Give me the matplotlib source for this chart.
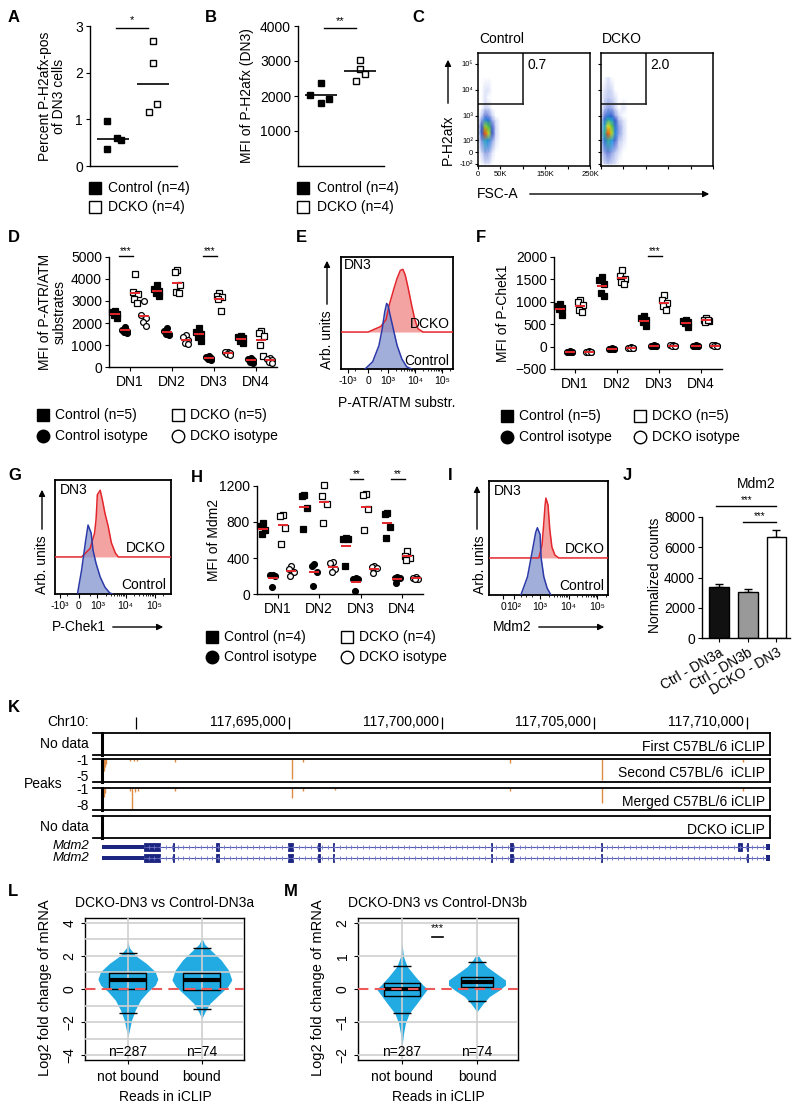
import numpy as np
import matplotlib
matplotlib.use("Agg")
from matplotlib import pyplot as plt
from matplotlib.lines import Line2D
from matplotlib.patches import Rectangle, FancyArrowPatch
from matplotlib.colors import LinearSegmentedColormap

plt.rcParams['font.family'] = ['Liberation Sans', 'DejaVu Sans']
plt.rcParams['font.size'] = 10
plt.rcParams['axes.linewidth'] = 1.0
plt.rcParams['xtick.major.size'] = 3
plt.rcParams['ytick.major.size'] = 3
plt.rcParams['xtick.major.pad'] = 2.5
plt.rcParams['ytick.major.pad'] = 2
plt.rcParams['xtick.minor.size'] = 1.5
plt.rcParams['ytick.minor.size'] = 1.5

# ---------------- data ----------------
# A: percent P-H2afx-pos of DN3
a_ctrl = [0.96, 0.59, 0.55, 0.37]
a_dcko = [2.67, 2.21, 1.16, 1.32]
a_jit_c = [-0.14, 0.09, 0.21, -0.14]
a_jit_d = [0.0, 0.0, -0.1, 0.09]

# B: MFI of P-H2afx (DN3)
b_ctrl = [2360, 2030, 1920, 1810]
b_dcko = [3030, 2770, 2630, 2430]
b_jit_c = [0.0, -0.28, 0.2, 0.0]
b_jit_d = [0.0, 0.0, 0.13, -0.1]

# C: flow density (rows = P-H2afx levels, cols = FSC-A levels)
c_fsc = [0, 8000, 16000, 24000, 32000, 40000, 50000, 60000, 75000]
c_h2 = [-100, 0, 100, 200, 400, 700, 1000, 2000, 5000, 10000, 30000]
c_ctrl = np.array([
    [0, 0, 0.02, 0.02, 0, 0, 0, 0, 0],
    [0, 0.03, 0.1, 0.08, 0.02, 0, 0, 0, 0],
    [0, 0.12, 0.45, 0.35, 0.1, 0.02, 0, 0, 0],
    [0, 0.25, 0.95, 0.75, 0.22, 0.03, 0, 0, 0],
    [0, 0.2, 0.7, 0.6, 0.18, 0.03, 0, 0, 0],
    [0, 0.1, 0.35, 0.28, 0.08, 0.02, 0, 0, 0],
    [0, 0.04, 0.15, 0.12, 0.04, 0, 0, 0, 0],
    [0, 0, 0.04, 0.03, 0, 0, 0, 0, 0],
    [0, 0, 0.02, 0, 0, 0, 0, 0, 0],
    [0, 0, 0.02, 0.02, 0, 0, 0, 0, 0],
    [0, 0, 0, 0, 0, 0, 0, 0, 0]])
c_dcko = np.array([
    [0, 0.03, 0.05, 0.03, 0.02, 0, 0, 0, 0],
    [0.02, 0.1, 0.15, 0.1, 0.05, 0.02, 0, 0, 0],
    [0.05, 0.3, 0.5, 0.4, 0.18, 0.05, 0.02, 0, 0],
    [0.08, 0.5, 0.95, 0.75, 0.35, 0.1, 0.03, 0, 0],
    [0.06, 0.45, 0.8, 0.65, 0.3, 0.1, 0.03, 0, 0],
    [0.04, 0.3, 0.5, 0.42, 0.2, 0.06, 0.02, 0, 0],
    [0.02, 0.15, 0.3, 0.24, 0.1, 0.03, 0, 0, 0],
    [0, 0.06, 0.1, 0.08, 0.03, 0, 0.02, 0, 0],
    [0, 0.03, 0.05, 0.04, 0.02, 0, 0, 0, 0],
    [0, 0.02, 0.04, 0.03, 0, 0, 0, 0, 0],
    [0, 0, 0.02, 0, 0, 0, 0, 0, 0]])
c_gate = [100000, 2900]
c_pct = ['0.7', '2.0']

dn_labels = ['DN1', 'DN2', 'DN3', 'DN4']

# D: MFI of P-ATR/ATM substrates
d_ctrl = [[2550, 2480, 2420, 2350, 2250], [3750, 3550, 3450, 3350, 3250],
          [1780, 1600, 1500, 1350, 1200], [1400, 1350, 1300, 1200, 1100]]
d_ctrl_iso = [[1800, 1700, 1650, 1600, 1550], [1780, 1650, 1520, 1480, 1450],
              [500, 450, 400, 350, 300], [420, 350, 300, 250, 200]]
d_dcko = [[4210, 3400, 3300, 3100, 2920], [4390, 4300, 3710, 3400, 3380],
          [3350, 3250, 3200, 3100, 2550], [1650, 1550, 1400, 1000, 520]]
d_dcko_iso = [[3000, 2350, 2250, 2050, 1870], [1450, 1380, 1250, 1100, 1050],
              [700, 680, 620, 580, 550], [400, 350, 300, 250, 200]]

# E: P-ATR/ATM substrate histograms (DN3)
e_red_x = [0, 490, 820, 1100, 1680, 2200, 2900, 3600, 4400, 5700, 7600, 10000, 13000, 20000]
e_red_h = [0, 0.05, 0.11, 0.24, 0.39, 0.48, 0.55, 0.56, 0.51, 0.39, 0.24, 0.11, 0.03, 0]
e_blue_x = [-100, 150, 400, 570, 730, 870, 985, 1200, 1680, 2200, 3300, 5000, 7600]
e_blue_h = [0, 0.065, 0.21, 0.36, 0.51, 0.585, 0.57, 0.48, 0.33, 0.21, 0.09, 0.02, 0]

# F: MFI of P-Chek1
f_ctrl = [[950, 900, 860, 830, 700], [1560, 1480, 1400, 1200, 1130],
          [680, 640, 600, 540, 450], [600, 570, 540, 520, 440]]
f_ctrl_iso = [[-100, -110, -120, -125, -130], [-40, -45, -50, -55, -60],
              [25, 20, 15, 10, 5], [25, 20, 15, 10, 5]]
f_dcko = [[1040, 1000, 930, 820, 780], [1700, 1580, 1500, 1440, 1390],
          [1160, 1050, 980, 900, 810], [640, 600, 580, 560, 590]]
f_dcko_iso = [[-105, -115, -120, -125, -130], [-20, -25, -30, -35, -40],
              [30, 25, 20, 15, 10], [30, 25, 20, 15, 10]]

# G: P-Chek1 histograms (DN3)
g_red_x = [110, 500, 780, 890, 945, 1000, 1280, 1500, 1900, 2500, 3200, 4400, 5600]
g_red_h = [0, 0.075, 0.21, 0.325, 0.425, 0.545, 0.585, 0.515, 0.385, 0.265, 0.125, 0.035, 0]
g_blue_x = [-50, 110, 280, 390, 555, 670, 890, 1280, 1900, 2800, 3500]
g_blue_h = [0, 0.21, 0.47, 0.605, 0.535, 0.385, 0.27, 0.15, 0.06, 0.01, 0]

# H: MFI of Mdm2
h_ctrl = [[785, 755, 707, 662], [1100, 1090, 960, 718], [620, 613, 610, 307], [900, 889, 748, 617]]
h_ctrl_iso = [[215, 206, 200, 82], [330, 310, 250, 90], [176, 170, 170, 37], [190, 180, 180, 120]]
h_dcko = [[880, 870, 736, 561], [1210, 1090, 1000, 792], [1110, 1100, 944, 710], [475, 420, 400, 381]]
h_dcko_iso = [[307, 280, 250, 202], [351, 344, 277, 239], [307, 299, 288, 232], [185, 180, 170, 165]]

# I: Mdm2 histograms (DN3)
i_red_x = [900, 1170, 1370, 1500, 1600, 1900, 2050, 2200, 2600, 3300, 4500]
i_red_h = [0, 0.114, 0.33, 0.465, 0.525, 0.465, 0.35, 0.245, 0.096, 0.026, 0]
i_blue_x = [200, 355, 560, 700, 800, 1000, 1080, 1350, 1770, 2400]
i_blue_h = [0, 0.16, 0.42, 0.55, 0.59, 0.53, 0.33, 0.16, 0.06, 0]

# J: Mdm2 normalized counts
j_labels = ['Ctrl - DN3a', 'Ctrl - DN3b', 'DCKO - DN3']
j_mean = [3400, 3050, 6650]
j_err = [150, 170, 500]

# K: genome browser, Chr10
view_lo, view_hi = 117688870, 117710760
ruler_bp = [117690000, 117695000, 117700000, 117705000, 117710000]
ruler_lab = ['', '117,695,000', '117,700,000', '117,705,000', '117,710,000']
t2_bp = [117688938, 117688970, 117689003, 117689790, 117689920, 117690019, 117691264,
         117695098, 117695459, 117702242, 117705257, 117709878]
t2_val = [-3.1, -2.4, -1.9, -1.35, -1.35, -1.35, -1.5, -4.5, -1.5, -1.7, -4.65, -1.5]
t3_bp = [117688938, 117688970, 117689790, 117689855, 117689955, 117690052, 117691264,
         117695098, 117695459, 117696507, 117702242, 117705257, 117709878]
t3_val = [-3.9, -2.6, -1.95, -7.9, -2.3, -1.95, -1.95, -4.2, -1.95, -1.6, -1.95, -5.8, -1.95]
mdm2_utr = (117688870, 117690245)
mdm2_end = (117710640, 117710760)
mdm2_a = [(117690245, 117690770), (117691185, 117691215), (117692610, 117692720),
          (117694980, 117695120), (117695960, 117696030), (117696430, 117696460),
          (117701605, 117701635), (117702250, 117702350), (117705210, 117705240),
          (117709700, 117709830), (117709995, 117710025)]
mdm2_b = [e for e in mdm2_a if e != (117709700, 117709830)]

# L / M: violin profiles (value, half width) and box stats (q1, median, q3, low, high)
l_nb_y = [2.87, 2.5, 2.0, 1.55, 1.05, 0.6, 0.24, -0.16, -0.67, -1.27, -1.88, -2.5, -2.9]
l_nb_w = [0, 0.02, 0.11, 0.25, 0.37, 0.405, 0.37, 0.27, 0.17, 0.10, 0.05, 0.02, 0]
l_b_y = [3.07, 2.7, 2.36, 1.76, 1.15, 0.55, 0.14, -0.36, -0.87, -1.37, -1.78]
l_b_w = [0, 0.04, 0.12, 0.26, 0.36, 0.405, 0.35, 0.23, 0.11, 0.045, 0]
l_stats = [(0.0, 0.55, 0.95, -1.43, 2.2), (-0.06, 0.55, 0.95, -1.23, 2.46)]
m_nb_y = [1.38, 0.98, 0.68, 0.37, 0.12, 0.0, -0.18, -0.43, -0.74, -1.04, -1.35, -1.75]
m_nb_w = [0, 0.02, 0.07, 0.18, 0.28, 0.34, 0.28, 0.20, 0.095, 0.045, 0.02, 0]
m_b_y = [1.08, 0.88, 0.68, 0.53, 0.27, 0.12, -0.03, -0.23, -0.43, -0.69]
m_b_w = [0, 0.055, 0.13, 0.22, 0.38, 0.38, 0.30, 0.165, 0.085, 0]
m_stats = [(-0.2, 0.0, 0.17, -0.74, 0.71), (0.05, 0.22, 0.35, -0.36, 0.82)]
vio_n = [287, 74]
vio_cats = ['not bound', 'bound']

# ---------------- helpers ----------------
W, H = 800.0, 1112.0
fig = plt.figure(figsize=(8, 11.12), dpi=100)
RED = '#e3262b'
VIO = '#22aae2'


def box(x0, y0, x1, y1):
    return fig.add_axes([x0 / W, 1 - y1 / H, (x1 - x0) / W, (y1 - y0) / H])


def ftext(x, y, s, **kw):
    kw.setdefault('va', 'center')
    return fig.text(x / W, 1 - y / H, s, **kw)


def farrow(x0, y0, x1, y1):
    fig.add_artist(FancyArrowPatch((x0 / W, 1 - y0 / H), (x1 / W, 1 - y1 / H),
                                   transform=fig.transFigure, arrowstyle='-|>',
                                   mutation_scale=9, lw=1, color='k'))


def fmark(x, y, marker, filled, ms):
    fig.add_artist(Line2D([x / W], [1 - y / H], marker=marker, ms=ms,
                          mfc='k' if filled else 'w', mec='k', mew=1,
                          transform=fig.transFigure))


def letter(x, y, s):
    ftext(x, y, s, fontsize=12, fontweight='bold', ha='left')


def prism(ax):
    ax.spines['top'].set_visible(False)
    ax.spines['right'].set_visible(False)
    ax.tick_params(direction='out')


def asinh_scale(ax, axis, c):
    fwd = lambda v: np.arcsinh(np.asarray(v, dtype=float) / (2 * c)) / np.log(10)
    inv = lambda p: 2 * c * np.sinh(np.asarray(p, dtype=float) * np.log(10))
    if axis == 'x':
        ax.set_xscale('function', functions=(fwd, inv))
    else:
        ax.set_yscale('function', functions=(fwd, inv))


# ---------------- A ----------------
letter(8, 18, 'A')
ax = box(90, 26, 177, 166)
prism(ax)
ax.set_xlim(0.425, 2.6)
ax.set_ylim(0, 3)
ax.set_yticks([0, 1, 2, 3])
ax.set_xticks([])
ax.plot([1 + j for j in a_jit_c], a_ctrl, ls='none', marker='s', ms=5, mfc='k', mec='k', clip_on=False)
ax.plot([2 + j for j in a_jit_d], a_dcko, ls='none', marker='s', ms=5, mfc='w', mec='k', mew=1, clip_on=False)
ax.hlines([np.median(a_ctrl), np.median(a_dcko)], [0.59, 1.59], [1.41, 2.41], color='k', lw=1.2)
ax.plot([1.07, 1.87], [2.95, 2.95], color='k', lw=1, clip_on=False)
ax.text(1.47, 3.02, '*', ha='center', va='bottom', fontsize=8)
ftext(52, 96, 'Percent P-H2afx-pos\nof DN3 cells', rotation=90, ha='center', linespacing=1.05)
fmark(95, 188, 's', True, 8)
fmark(95, 207, 's', False, 8)
ftext(108, 188, 'Control (n=4)')
ftext(108, 207, 'DCKO (n=4)')

# ---------------- B ----------------
letter(205, 18, 'B')
ax = box(298, 26, 384, 166)
prism(ax)
ax.set_xlim(0.41, 2.62)
ax.set_ylim(0, 4000)
ax.set_yticks([1000, 2000, 3000, 4000])
ax.set_xticks([])
ax.plot([1 + j for j in b_jit_c], b_ctrl, ls='none', marker='s', ms=5, mfc='k', mec='k', clip_on=False)
ax.plot([2 + j for j in b_jit_d], b_dcko, ls='none', marker='s', ms=5, mfc='w', mec='k', mew=1, clip_on=False)
ax.hlines([np.mean(b_ctrl), np.mean(b_dcko)], [0.58, 1.58], [1.42, 2.42], color='k', lw=1.2)
ax.plot([1.08, 1.9], [3930, 3930], color='k', lw=1, clip_on=False)
ax.text(1.49, 3990, '**', ha='center', va='bottom', fontsize=8)
ftext(247, 96, 'MFI of P-H2afx (DN3)', rotation=90, ha='center')
fmark(303, 188, 's', True, 8)
fmark(303, 207, 's', False, 8)
ftext(317, 188, 'Control (n=4)')
ftext(317, 207, 'DCKO (n=4)')

# ---------------- C ----------------
letter(412, 18, 'C')
flow_cmap = LinearSegmentedColormap.from_list(
    'flow', [(0.0, '#e8ecfb'), (0.06, '#aab8ec'), (0.2, '#3550c8'), (0.4, '#1ea0e6'),
             (0.6, '#3cc24a'), (0.8, '#f2e41c'), (1.0, '#f21a0a')])
flow_cmap.set_under('white')
XX, YY = np.meshgrid(c_fsc, c_h2)
for k, (x0, dens, title) in enumerate([(478, c_ctrl, 'Control'), (601, c_dcko, 'DCKO')]):
    ax = box(x0, 53, x0 + 112, 166)
    asinh_scale(ax, 'y', 40)
    ax.set_xlim(0, 250000)
    ax.set_ylim(-125, 262144)
    ax.pcolormesh(XX, YY, dens, shading='gouraud', cmap=flow_cmap, vmin=0.01, vmax=1)
    ax.plot([0, c_gate[0]], [c_gate[1], c_gate[1]], color='#222222', lw=1.2)
    ax.plot([c_gate[0], c_gate[0]], [c_gate[1], 262144], color='#222222', lw=1.2)
    ax.text(0.44, 0.89, c_pct[k], transform=ax.transAxes, fontsize=10, va='center')
    ax.set_yticks([-100, 0, 100, 1000, 10000, 100000])
    ax.set_xticks([0, 50000, 100000, 150000, 200000, 250000])
    ax.tick_params(labelsize=5.5, length=2, pad=1.5, width=0.8)
    for s in ax.spines.values():
        s.set_linewidth(1.1)
    if k == 0:
        ax.set_yticklabels(['-10²', '0', '10²', '10³', '10⁴', '10⁵'])
        ax.set_xticklabels(['0', '50K', '', '150K', '', '250K'])
    else:
        ax.set_yticklabels([])
        ax.set_xticklabels([])
    ftext(x0 + 1, 39, title, ha='left', fontsize=10)
ftext(448, 140, 'P-H2afx', rotation=90, ha='center', fontsize=10)
farrow(448, 106, 448, 57)
ftext(477, 194, 'FSC-A', ha='left', fontsize=10)
farrow(527, 194, 712, 194)


# ---------------- D / F / H ----------------
OFFS = [-0.36, -0.12, 0.12, 0.33]
JIT = [0.0, -0.06, 0.06, -0.03, 0.04]
STY = [('s', True), ('o', True), ('s', False), ('o', False)]


def mfi_panel(ax, series, ylim, yticks, sig, sig_y):
    prism(ax)
    ax.set_xlim(0.5, 4.5)
    ax.set_ylim(*ylim)
    ax.set_yticks(yticks)
    ax.set_xticks([1, 2, 3, 4])
    ax.set_xticklabels(dn_labels)
    for k, ser in enumerate(series):
        mk, filled = STY[k]
        for g, vals in enumerate(ser):
            x0 = g + 1 + OFFS[k]
            xs = [x0 + JIT[i] for i in range(len(vals))]
            ax.plot(xs, vals, ls='none', marker=mk, ms=4.2, mfc='k' if filled else 'w',
                    mec='k', mew=0.9, clip_on=False, zorder=3)
            ax.hlines(np.mean(vals), x0 - 0.12, x0 + 0.12, color=RED, lw=1.4, zorder=4)
    for g, stars in sig:
        ax.plot([g - 0.27, g + 0.06], [sig_y, sig_y], color='k', lw=1, clip_on=False)
        ax.text(g - 0.105, sig_y, stars, ha='center', va='bottom', fontsize=7)


def mfi_legend(xa, xb, y1, y2, n):
    fmark(xa, y1, 's', True, 8.5)
    fmark(xa, y2, 'o', True, 9)
    fmark(xb, y1, 's', False, 8.5)
    fmark(xb, y2, 'o', False, 9)
    ftext(xa + 12, y1, 'Control (n=%d)' % n)
    ftext(xa + 12, y2, 'Control isotype')
    ftext(xb + 12, y1, 'DCKO (n=%d)' % n)
    ftext(xb + 12, y2, 'DCKO isotype')


letter(8, 238, 'D')
ax = box(109, 257, 277, 367)
mfi_panel(ax, [d_ctrl, d_ctrl_iso, d_dcko, d_dcko_iso], (0, 5000),
          [0, 1000, 2000, 3000, 4000, 5000], [(1, '***'), (3, '***')], 5060)
ftext(52, 312, 'MFI of P-ATR/ATM\nsubstrates', rotation=90, ha='center', linespacing=1.05)
mfi_legend(43, 178, 415, 436, 5)

letter(476, 238, 'F')
ax = box(554, 257, 722, 369)
mfi_panel(ax, [f_ctrl, f_ctrl_iso, f_dcko, f_dcko_iso], (-500, 2000),
          [-500, 0, 500, 1000, 1500, 2000], [(3, '***')], 2030)
ftext(503, 313, 'MFI of P-Chek1', rotation=90, ha='center')
mfi_legend(507, 640, 416, 437, 5)

letter(191, 477, 'H')
ax = box(257, 486, 423, 594)
mfi_panel(ax, [h_ctrl, h_ctrl_iso, h_dcko, h_dcko_iso], (0, 1200),
          [0, 400, 800, 1200], [(3, '**'), (4, '**')], 1280)
ftext(214, 540, 'MFI of Mdm2', rotation=90, ha='center')
mfi_legend(212, 347, 637, 657, 4)


# ---------------- E / G / I ----------------
def hist_panel(ax, c, xlim, xticks, xlabs, minors, red_x, red_h, red_off, blue_x, blue_h):
    asinh_scale(ax, 'x', c)
    ax.set_xlim(*xlim)
    ax.set_ylim(0, 1)
    rx = [xlim[0]] + list(red_x) + [xlim[1]]
    ry = [red_off] + [red_off + h for h in red_h] + [red_off]
    ax.fill_between(rx, red_off, ry, color='#f4a3a3', lw=0, zorder=1)
    ax.plot(rx, ry, color=RED, lw=1.1, zorder=3)
    ax.fill_between(blue_x, 0, blue_h, color='#7f8fcc', alpha=0.72, lw=0, zorder=2)
    ax.plot(blue_x, blue_h, color='#2b3aa8', lw=1.1, zorder=3)
    ax.set_yticks([])
    ax.set_xticks(xticks)
    ax.set_xticklabels(xlabs)
    ax.set_xticks(minors, minor=True)
    ax.tick_params(axis='x', labelsize=7.5, pad=2)
    for s in ax.spines.values():
        s.set_linewidth(1.3)


dec_minor = [2e3, 3e3, 4e3, 5e3, 6e3, 7e3, 8e3, 9e3, 2e4, 3e4, 4e4, 5e4, 6e4, 7e4, 8e4, 9e4, 2e5]

letter(296, 238, 'E')
ax = box(341, 257, 453, 369)
hist_panel(ax, 189, (-1870, 2.55e5), [-1000, 0, 1000, 1e4, 1e5],
           ['-10³', '0', '10³', '10⁴', '10⁵'], [-500, 500] + dec_minor,
           e_red_x, e_red_h, 0.33, e_blue_x, e_blue_h)
ax.text(0.03, 0.93, 'DN3', transform=ax.transAxes, va='center')
ax.text(0.97, 0.40, 'DCKO', transform=ax.transAxes, ha='right', va='center')
ax.text(0.97, 0.07, 'Control', transform=ax.transAxes, ha='right', va='center')
ftext(327, 340, 'Arb. units', rotation=90, ha='center')
farrow(327, 307, 327, 258)
ftext(397, 403, 'P-ATR/ATM substr.', ha='center')

letter(8, 475, 'G')
ax = box(55, 480, 171, 594)
hist_panel(ax, 241, (-1557, 3.7e5), [-1000, 0, 1000, 1e4, 1e5],
           ['-10³', '0', '10³', '10⁴', '10⁵'], [-500, 500] + dec_minor,
           g_red_x, g_red_h, 0.325, g_blue_x, g_blue_h)
ax.text(0.04, 0.91, 'DN3', transform=ax.transAxes, va='center')
ax.text(0.96, 0.40, 'DCKO', transform=ax.transAxes, ha='right', va='center')
ax.text(0.96, 0.08, 'Control', transform=ax.transAxes, ha='right', va='center')
ftext(42, 565, 'Arb. units', rotation=90, ha='center')
farrow(42, 532, 42, 487)
ftext(52, 627, 'P-Chek1', ha='left')
farrow(110, 627, 166, 627)

letter(448, 475, 'I')
ax = box(489, 481, 608, 595)
hist_panel(ax, 50, (-139, 2.42e5), [0, 100, 1000, 1e4, 1e5],
           ['0', '10²', '10³', '10⁴', '10⁵'], [200, 300, 500] + dec_minor,
           i_red_x, i_red_h, 0.325, i_blue_x, i_blue_h)
ax.text(0.04, 0.91, 'DN3', transform=ax.transAxes, va='center')
ax.text(0.97, 0.40, 'DCKO', transform=ax.transAxes, ha='right', va='center')
ax.text(0.97, 0.08, 'Control', transform=ax.transAxes, ha='right', va='center')
ftext(480, 565, 'Arb. units', rotation=90, ha='center')
farrow(477, 532, 477, 483)
ftext(493, 627, 'Mdm2', ha='left')
farrow(536, 627, 607, 627)

# ---------------- J ----------------
letter(623, 475, 'J')
ax = box(702, 517, 790, 638)
prism(ax)
xs = np.arange(len(j_mean))
ax.bar(xs, j_mean, width=0.69, color=['#111111', '#999999', 'white'], edgecolor='k', lw=1, zorder=2)
ax.errorbar(xs, j_mean, yerr=[[0] * len(j_err), j_err], fmt='none', ecolor='k',
            elinewidth=1, capsize=3, capthick=1, zorder=1)
ax.set_xlim(-0.59, 2.47)
ax.set_ylim(0, 8000)
ax.set_yticks([0, 2000, 4000, 6000, 8000])
ax.set_xticks(xs)
ax.set_xticklabels(j_labels, rotation=30, ha='right', rotation_mode='anchor')
ax.plot([-0.1, 2.0], [8700, 8700], color='k', lw=1, clip_on=False)
ax.text(0.95, 8760, '***', ha='center', va='bottom', fontsize=7)
ax.plot([0.85, 2.0], [7700, 7700], color='k', lw=1, clip_on=False)
ax.text(1.42, 7760, '***', ha='center', va='bottom', fontsize=7)
ax.text(1.3, 10150, 'Mdm2', ha='center', va='center')
ftext(655, 575, 'Normalized counts', rotation=90, ha='center')

# ---------------- K ----------------
letter(8, 708, 'K')
ftext(89, 722, 'Chr10:', ha='right')
rul = box(102, 715, 770, 730)
rul.axis('off')
rul.set_xlim(view_lo, view_hi)
rul.set_ylim(0, 1)
rul.vlines(ruler_bp, 0.1, 0.9, color='k', lw=0.9)
for bp, lab in zip(ruler_bp, ruler_lab):
    rul.annotate(lab, (bp, 0.5), xytext=(-2, 0), textcoords='offset points', ha='right', va='center')


def track(y0, y1):
    t = box(102, y0, 770, y1)
    t.set_xlim(view_lo, view_hi)
    t.set_xticks([])
    t.set_yticks([])
    for s in t.spines.values():
        s.set_linewidth(1.3)
    t.spines['left'].set_linewidth(2.2)
    for yy in (y0, y1):
        fig.add_artist(Line2D([93 / W, 102 / W], [1 - yy / H, 1 - yy / H], color='k', lw=1.3))
    return t


t1 = track(733, 755)
t1.text(0.992, 0.35, 'First C57BL/6 iCLIP', transform=t1.transAxes, ha='right', va='center')
ftext(89, 744, 'No data', ha='right')

t2 = track(759, 782)
t2.set_ylim(-5, -1)
t2.vlines(t2_bp, -1, t2_val, color='#dd8b45', lw=1)
t2.text(0.992, 0.38, 'Second C57BL/6  iCLIP', transform=t2.transAxes, ha='right', va='center')
ftext(89, 761, '-1', ha='right')
ftext(89, 777, '-5', ha='right')

t3 = track(788, 810)
t3.set_ylim(-8, -1)
t3.vlines(t3_bp, -1, t3_val, color='#dd8b45', lw=1)
t3.text(0.992, 0.35, 'Merged C57BL/6 iCLIP', transform=t3.transAxes, ha='right', va='center')
ftext(89, 790, '-1', ha='right')
ftext(89, 806, '-8', ha='right')
ftext(43, 784, 'Peaks', ha='center')

t4 = track(816, 838)
t4.text(0.992, 0.38, 'DCKO iCLIP', transform=t4.transAxes, ha='right', va='center')
ftext(89, 827, 'No data', ha='right')

gx = box(102, 841, 770, 864)
gx.axis('off')
gx.set_xlim(view_lo, view_hi)
gx.set_ylim(0, 1)
GENE = '#1c2580'
for yc, exons in [(0.74, mdm2_a), (0.27, mdm2_b)]:
    dec = np.arange(mdm2_utr[1] + 150, mdm2_end[0], 190)
    gx.plot([mdm2_utr[1], mdm2_end[0]], [yc, yc], color='#4a50aa', lw=0.8)
    gx.plot(dec, [yc] * len(dec), ls='none', marker='+', ms=3, mew=0.6, color='#6d72c4')
    gx.add_patch(Rectangle((mdm2_utr[0], yc - 0.09), mdm2_utr[1] - mdm2_utr[0], 0.18, color=GENE, lw=0))
    gx.add_patch(Rectangle((mdm2_end[0], yc - 0.12), mdm2_end[1] - mdm2_end[0], 0.24, color=GENE, lw=0))
    for s, e in exons:
        gx.add_patch(Rectangle((s, yc - 0.18), e - s, 0.36, facecolor=GENE, edgecolor=GENE, lw=0.6))
ftext(89, 846, 'Mdm2', ha='right', style='italic', fontsize=9.5)
ftext(89, 858, 'Mdm2', ha='right', style='italic', fontsize=9.5)


# ---------------- L / M ----------------
def violin_panel(ax, vios, stats, boxw, ylim, yticks, grid_vals, n_y, xlim):
    ax.set_xlim(*xlim)
    ax.set_ylim(*ylim)
    for pos, (ys, ws), st, bw in zip([1, 2], vios, stats, boxw):
        ys = np.array(ys)
        ws = np.array(ws)
        ax.fill_betweenx(ys, pos - ws, pos + ws, color=VIO, lw=0, zorder=2)
        q1, med, q3, lo, hi = st
        ax.add_patch(Rectangle((pos - bw, q1), 2 * bw, q3 - q1, fill=False, ec='k', lw=1, zorder=4))
        ax.hlines(med, pos - bw, pos + bw, color='k', lw=3, zorder=5)
        ax.hlines([lo, hi], pos - 0.12, pos + 0.12, color='k', lw=1, zorder=4)
    for gv in grid_vals:
        ax.axhline(gv, color='#cfcfcf', lw=1.2, zorder=3)
    for gv in [1, 2]:
        ax.axvline(gv, color='#cfcfcf', lw=1.2, zorder=3)
    ax.axhline(0, color='#ee5a5a', lw=1.5, ls=(0, (5, 3)), zorder=6)
    for pos, n in zip([1, 2], vio_n):
        ax.text(pos, n_y, 'n=%d' % n, ha='center', va='center', zorder=7)
    ax.set_yticks(yticks)
    ax.set_yticklabels(['%g' % v if v >= 0 else '\u2212%g' % -v for v in yticks], rotation=90, va='center')
    ax.set_xticks([1, 2])
    ax.set_xticklabels(vio_cats)
    ax.tick_params(axis='y', pad=3)
    ax.tick_params(axis='x', pad=4)


letter(8, 892, 'L')
ax = box(85, 918, 244, 1060)
violin_panel(ax, [(l_nb_y, l_nb_w), (l_b_y, l_b_w)], l_stats, [0.25, 0.25],
             (-4.3, 4.3), [-4, -2, 0, 2, 4], [-4, -3, -2, -1, 1, 2, 3, 4], -3.82, (0.42, 2.57))
ftext(165, 903, 'DCKO-DN3 vs Control-DN3a', ha='center')
ftext(165, 1097, 'Reads in iCLIP', ha='center')
ftext(45, 988, 'Log2 fold change of mRNA', rotation=90, ha='center', fontsize=10.5)

letter(284, 892, 'M')
ax = box(358, 918, 518, 1060)
violin_panel(ax, [(m_nb_y, m_nb_w), (m_b_y, m_b_w)], m_stats, [0.24, 0.21],
             (-2.15, 2.15), [-2, -1, 0, 1, 2], [-2, -1, 1, 2], -1.91, (0.413, 2.547))
ax.plot([1.40, 1.55], [1.58, 1.58], color='k', lw=1.2, zorder=7)
ax.text(1.47, 1.70, '***', ha='center', va='bottom', fontsize=8, zorder=7)
ftext(438, 903, 'DCKO-DN3 vs Control-DN3b', ha='center')
ftext(438, 1097, 'Reads in iCLIP', ha='center')
ftext(318, 988, 'Log2 fold change of mRNA', rotation=90, ha='center', fontsize=10.5)

fig.savefig('out.png', dpi=100)
